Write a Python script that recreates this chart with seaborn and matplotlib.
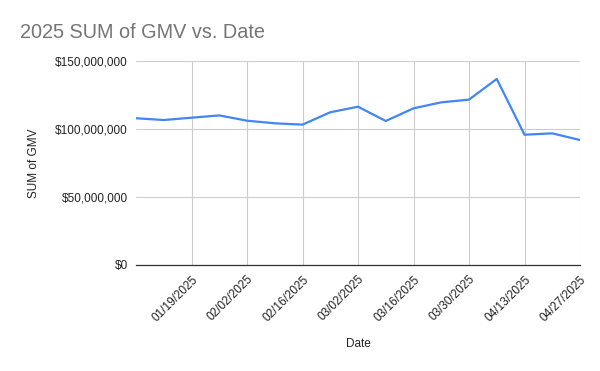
import matplotlib
matplotlib.use("Agg")
import matplotlib.pyplot as plt
import matplotlib.dates as mdates
import matplotlib.ticker as mticker
import pandas as pd
import seaborn as sns

dates = ["2025-01-05", "2025-01-12", "2025-01-19", "2025-01-26", "2025-02-02",
         "2025-02-09", "2025-02-16", "2025-02-23", "2025-03-02", "2025-03-09",
         "2025-03-16", "2025-03-23", "2025-03-30", "2025-04-06", "2025-04-13",
         "2025-04-20", "2025-04-27"]
gmv = [107.9e6, 106.6e6, 108.3e6, 110.0e6, 106.1e6, 104.2e6, 103.2e6, 112.3e6,
       116.4e6, 105.9e6, 115.2e6, 119.6e6, 121.6e6, 136.8e6, 95.8e6, 96.8e6, 91.9e6]
tick_dates = ["2025-01-19", "2025-02-02", "2025-02-16", "2025-03-02",
              "2025-03-16", "2025-03-30", "2025-04-13", "2025-04-27"]
y_ticks = [0, 50e6, 100e6, 150e6]

df = pd.DataFrame({"Date": pd.to_datetime(dates), "GMV": gmv})

sns.set_theme(style="white")
plt.rcParams["font.family"] = ["Liberation Sans", "DejaVu Sans"]

fig = plt.figure(figsize=(6, 3.71), dpi=100)
ax = fig.add_axes([136/600, 1-265/371, 444/600, 204/371])

sns.lineplot(data=df, x="Date", y="GMV", ax=ax, color="#4285F4", linewidth=1.6)

ax.set_xlim(df["Date"].iloc[0], df["Date"].iloc[-1])
ax.set_ylim(0, 150e6)
ax.set_yticks(y_ticks)
ax.yaxis.set_major_formatter(mticker.FuncFormatter(lambda v, p: f"${v:,.0f}"))
ax.set_xticks(pd.to_datetime(tick_dates))
ax.xaxis.set_major_formatter(mdates.DateFormatter("%m/%d/%Y"))
for lbl in ax.get_xticklabels():
    lbl.set_rotation(45)
    lbl.set_ha("right")
    lbl.set_rotation_mode("anchor")

ax.grid(True, color="#cccccc", linewidth=0.8)
ax.set_axisbelow(True)
for s in ["top", "right", "left"]:
    ax.spines[s].set_visible(False)
ax.spines["bottom"].set_color("#333333")
ax.spines["bottom"].set_linewidth(0.9)
ax.tick_params(axis="both", length=0, labelsize=8.5, colors="#222222")
ax.tick_params(axis="y", pad=6)
ax.tick_params(axis="x", pad=6)

ax.set_xlabel("Date", fontsize=8.5, color="#222222", labelpad=10)
ax.set_ylabel("SUM of GMV", fontsize=8.5, color="#222222", labelpad=11)

fig.text(20/600, 1-32/371, "2025 SUM of GMV vs. Date", fontsize=14.3, color="#757575",
         ha="left", va="center")

fig.savefig("out.png", dpi=100)
